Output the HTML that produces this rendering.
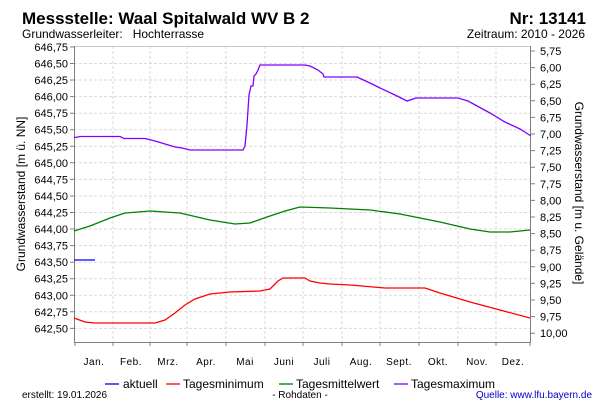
<!DOCTYPE html>
<html><head><meta charset="utf-8"><style>
html,body{margin:0;padding:0;background:#fff}
svg{display:block;font-family:"Liberation Sans",Arial,sans-serif}
</style></head><body>
<svg width="600" height="400" viewBox="0 0 600 400">
<rect width="600" height="400" fill="#fff"/>
<text x="22" y="24" font-size="17" font-weight="bold">Messstelle: Waal Spitalwald WV B 2</text>
<text x="586" y="24" font-size="17" font-weight="bold" text-anchor="end">Nr: 13141</text>
<text x="22" y="38" font-size="12" xml:space="preserve">Grundwasserleiter:   Hochterrasse</text>
<text x="585" y="38" font-size="12" text-anchor="end">Zeitraum: 2010 - 2026</text>
<g stroke="#dadada" stroke-dasharray="3,2" stroke-width="1">
<line x1="74" x2="531" y1="63.5" y2="63.5"/><line x1="74" x2="531" y1="80" y2="80"/><line x1="74" x2="531" y1="96.6" y2="96.6"/><line x1="74" x2="531" y1="113.2" y2="113.2"/><line x1="74" x2="531" y1="129.7" y2="129.7"/><line x1="74" x2="531" y1="146.3" y2="146.3"/><line x1="74" x2="531" y1="162.8" y2="162.8"/><line x1="74" x2="531" y1="179.4" y2="179.4"/><line x1="74" x2="531" y1="196" y2="196"/><line x1="74" x2="531" y1="212.5" y2="212.5"/><line x1="74" x2="531" y1="229" y2="229"/><line x1="74" x2="531" y1="245.6" y2="245.6"/><line x1="74" x2="531" y1="262.2" y2="262.2"/><line x1="74" x2="531" y1="278.7" y2="278.7"/><line x1="74" x2="531" y1="295.3" y2="295.3"/><line x1="74" x2="531" y1="311.8" y2="311.8"/><line x1="74" x2="531" y1="328.4" y2="328.4"/>
<line x1="113" x2="113" y1="46" y2="342"/><line x1="150" x2="150" y1="46" y2="342"/><line x1="187" x2="187" y1="46" y2="342"/><line x1="226" x2="226" y1="46" y2="342"/><line x1="265" x2="265" y1="46" y2="342"/><line x1="303" x2="303" y1="46" y2="342"/><line x1="342" x2="342" y1="46" y2="342"/><line x1="380" x2="380" y1="46" y2="342"/><line x1="419" x2="419" y1="46" y2="342"/><line x1="458" x2="458" y1="46" y2="342"/><line x1="496" x2="496" y1="46" y2="342"/>
</g>
<g stroke="#808080" stroke-width="1" fill="none">
<line x1="74" y1="46.5" x2="531" y2="46.5" stroke="#c8c8c8"/>
<line x1="74.5" y1="46" x2="74.5" y2="342"/><line x1="530.5" y1="46" x2="530.5" y2="342"/><line x1="74" y1="342.5" x2="531" y2="342.5"/>
<path d="M70 47h4M70 63.5h4M70 80h4M70 96.6h4M70 113.2h4M70 129.7h4M70 146.3h4M70 162.8h4M70 179.4h4M70 196h4M70 212.5h4M70 229h4M70 245.6h4M70 262.2h4M70 278.7h4M70 295.3h4M70 311.8h4M70 328.4h4"/>
<path d="M531 51h4M531 67.6h4M531 84.2h4M531 100.8h4M531 117.4h4M531 134h4M531 150.6h4M531 167.2h4M531 183.8h4M531 200.4h4M531 217h4M531 233.6h4M531 250.2h4M531 266.8h4M531 283.4h4M531 300h4M531 316.6h4M531 333.2h4"/>
<path d="M75 342v4M113 342v4M150 342v4M187 342v4M226 342v4M265 342v4M303 342v4M342 342v4M380 342v4M419 342v4M458 342v4M496 342v4M530 342v4"/>
</g>
<g font-size="11" text-anchor="end">
<text x="68" y="51">646,75</text><text x="68" y="67.5">646,50</text><text x="68" y="84">646,25</text><text x="68" y="100.6">646,00</text><text x="68" y="117.2">645,75</text><text x="68" y="133.7">645,50</text><text x="68" y="150.3">645,25</text><text x="68" y="166.8">645,00</text><text x="68" y="183.4">644,75</text><text x="68" y="200">644,50</text><text x="68" y="216.5">644,25</text><text x="68" y="233">644,00</text><text x="68" y="249.6">643,75</text><text x="68" y="266.2">643,50</text><text x="68" y="282.7">643,25</text><text x="68" y="299.3">643,00</text><text x="68" y="315.8">642,75</text><text x="68" y="332.4">642,50</text>
</g>
<g font-size="11">
<text x="540" y="55">5,75</text><text x="540" y="71.6">6,00</text><text x="540" y="88.2">6,25</text><text x="540" y="104.8">6,50</text><text x="540" y="121.4">6,75</text><text x="540" y="138">7,00</text><text x="540" y="154.6">7,25</text><text x="540" y="171.2">7,50</text><text x="540" y="187.8">7,75</text><text x="540" y="204.4">8,00</text><text x="540" y="221">8,25</text><text x="540" y="237.6">8,50</text><text x="540" y="254.2">8,75</text><text x="540" y="270.8">9,00</text><text x="540" y="287.4">9,25</text><text x="540" y="304">9,50</text><text x="540" y="320.6">9,75</text><text x="540" y="337.2">10,00</text>
</g>
<g font-size="10" text-anchor="middle" letter-spacing="0.5">
<text x="94" y="365">Jan.</text><text x="131" y="365">Feb.</text><text x="168" y="365">Mrz.</text><text x="206" y="365">Apr.</text><text x="245" y="365">Mai</text><text x="284" y="365">Juni</text><text x="322" y="365">Juli</text><text x="361" y="365">Aug.</text><text x="399" y="365">Sept.</text><text x="438" y="365">Okt.</text><text x="477" y="365">Nov.</text><text x="513" y="365">Dez.</text>
</g>
<text transform="translate(25,194) rotate(-90)" font-size="12" text-anchor="middle">Grundwasserstand [m ü. NN]</text>
<text transform="translate(575,193) rotate(90)" font-size="12" text-anchor="middle">Grundwasserstand [m u. Gelände]</text>
<g fill="none" stroke-width="1.3">
<polyline stroke="#8000ff" points="74,137 76,137.5 80,136.5 120,136.5 124,138.5 145,138.5 155,141 165,144 175,147 182,148 190,150 243,150 245,146 247,125 249,95 251,86 253,86 254,76 256,74 258,70 260,65 305,65 310,66 318,70 323,74 324,77 357,77 370,83 380,88 395,95 407,101 416,98 458,98 468,101 490,113 505,122 520,129 531,136"/>
<polyline stroke="#008000" points="74,231 90,226 110,218 125,213 150,211 180,213 210,220 235,224 250,223 270,216 285,211 300,207 330,208 370,210 400,214 440,222 470,229 490,232 510,232 530,230"/>
<polyline stroke="#ff0000" points="74,318 85,322 95,323 155,323 165,320 175,313 185,305 195,299 210,294 230,292 260,291 270,289 278,281 283,278 305,278 310,281 320,283 330,284 350,285 385,288 425,288 440,293 470,302 500,310 530,318"/>
<polyline stroke="#0000ff" points="74,260 95,260"/>
</g>
<g font-size="12">
<line x1="105" y1="384" x2="119" y2="384" stroke="#0000ff" stroke-width="1.3"/><text x="123" y="388">aktuell</text>
<line x1="166" y1="384" x2="180" y2="384" stroke="#ff0000" stroke-width="1.3"/><text x="183" y="388">Tagesminimum</text>
<line x1="279" y1="384" x2="293" y2="384" stroke="#008000" stroke-width="1.3"/><text x="296" y="388">Tagesmittelwert</text>
<line x1="394" y1="384" x2="408" y2="384" stroke="#8000ff" stroke-width="1.3"/><text x="411" y="388">Tagesmaximum</text>
</g>
<g font-size="10">
<text x="22" y="398">erstellt:  19.01.2026</text>
<text x="300" y="398" text-anchor="middle">- Rohdaten -</text>
<text x="592" y="398" text-anchor="end" fill="#0000cc">Quelle: www.lfu.bayern.de</text>
</g>
</svg>
</body></html>
